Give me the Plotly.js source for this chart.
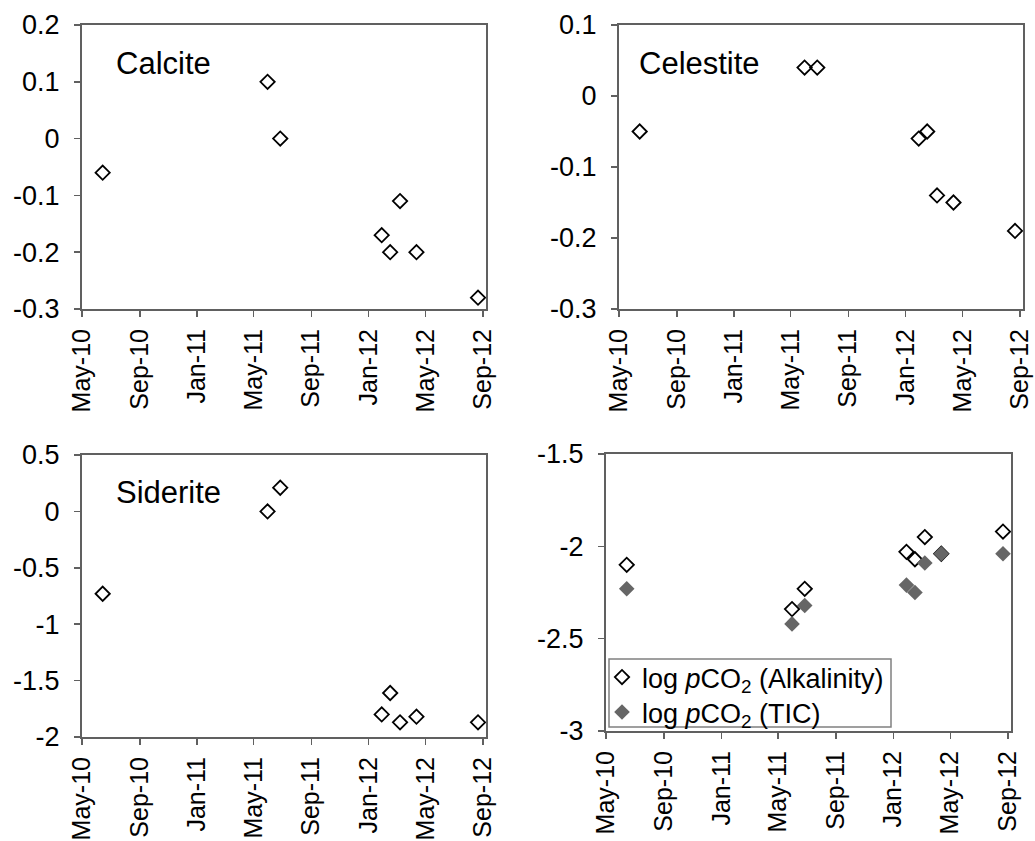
<!DOCTYPE html>
<html>
<head>
<meta charset="utf-8">
<script src="https://cdn.plot.ly/plotly-3.0.1.min.js"></script>
<style>html,body{margin:0;padding:0;background:#fff;}#chart{width:1035px;height:841px;}</style>
</head>
<body>
<div id="chart"></div>
<script>
// Sampling dates (shared by all panels)
const dates = ['2010-06-14','2011-05-31','2011-06-27','2012-01-29','2012-02-16','2012-03-08','2012-04-12','2012-08-21'];

// Saturation indices
const calcite   = [-0.06, 0.10, 0.00, -0.17, -0.20, -0.11, -0.20, -0.28];
const celestite = [-0.05, 0.04, 0.04, -0.06, -0.05, -0.14, -0.15, -0.19];
const siderite  = [-0.73, 0.00, 0.21, -1.80, -1.61, -1.87, -1.82, -1.87];

// log pCO2
const pco2Alk = [-2.10, -2.34, -2.23, -2.03, -2.07, -1.95, -2.04, -1.92];
const pco2TIC = [-2.23, -2.42, -2.32, -2.21, -2.25, -2.09, -2.04, -2.04];

// Tick labels
const xTickVals = ['2010-05-01','2010-09-01','2011-01-01','2011-05-01','2011-09-01','2012-01-01','2012-05-01','2012-09-01'];
const xTickText = ['May-10','Sep-10','Jan-11','May-11','Sep-11','Jan-12','May-12','Sep-12'];
const y1Vals = [0.2, 0.1, 0, -0.1, -0.2, -0.3];
const y1Text = ['0.2','0.1','0','-0.1','-0.2','-0.3'];
const y2Vals = [0.1, 0, -0.1, -0.2, -0.3];
const y2Text = ['0.1','0','-0.1','-0.2','-0.3'];
const y3Vals = [0.5, 0, -0.5, -1, -1.5, -2];
const y3Text = ['0.5','0','-0.5','-1','-1.5','-2'];
const y4Vals = [-1.5, -2, -2.5, -3];
const y4Text = ['-1.5','-2','-2.5','-3'];

const W = 1035, H = 841;
const FONT = 'Liberation Sans, Arial, sans-serif';
const openMarker = {symbol: 'diamond-open', size: 11, color: '#000', line: {width: 1.8, color: '#000'}};
const filledMarker = {symbol: 'diamond', size: 12, color: '#666666', line: {width: 0}};

function xa(l, r) {
  return {
    type: 'date', domain: [l / W, r / W], range: ['2010-05-01', '2012-09-07'],
    tickvals: xTickVals, ticktext: xTickText, tickangle: -90,
    ticks: 'outside', ticklen: 6, tickwidth: 1.5, tickcolor: '#606060',
    ticklabelstandoff: 2,
    showline: true, mirror: true, linecolor: '#606060', linewidth: 2,
    showgrid: false, zeroline: false, fixedrange: true,
    tickfont: {family: FONT, size: 25, color: '#000'}
  };
}
function ya(t, b, range, vals, text) {
  return {
    domain: [1 - b / H, 1 - t / H], range: range,
    tickvals: vals, ticktext: text,
    ticks: 'outside', ticklen: 6, tickwidth: 1.5, tickcolor: '#606060',
    ticklabelstandoff: 9,
    showline: true, mirror: true, linecolor: '#606060', linewidth: 2,
    showgrid: false, zeroline: false, fixedrange: true,
    tickfont: {family: FONT, size: 27, color: '#000'}
  };
}

const traces = [
  {x: dates, y: calcite, xaxis: 'x', yaxis: 'y', mode: 'markers', marker: openMarker, showlegend: false, name: 'Calcite'},
  {x: dates, y: celestite, xaxis: 'x2', yaxis: 'y2', mode: 'markers', marker: openMarker, showlegend: false, name: 'Celestite'},
  {x: dates, y: siderite, xaxis: 'x3', yaxis: 'y3', mode: 'markers', marker: openMarker, showlegend: false, name: 'Siderite'},
  {x: dates, y: pco2Alk, xaxis: 'x4', yaxis: 'y4', mode: 'markers', marker: openMarker, legend: 'legend', name: 'log <i>p</i>CO<sub>2</sub> (Alkalinity)'},
  {x: dates, y: pco2TIC, xaxis: 'x4', yaxis: 'y4', mode: 'markers', marker: filledMarker, legend: 'legend2', name: 'log <i>p</i>CO<sub>2</sub> (TIC)'}
];

const legendBase = {
  xanchor: 'left', yanchor: 'top',
  bgcolor: 'rgba(0,0,0,0)', borderwidth: 0,
  font: {family: FONT, size: 27, color: '#000'},
  tracegroupgap: 0, itemwidth: 30
};

const layout = {
  width: W, height: H,
  margin: {l: 0, r: 0, t: 0, b: 0},
  paper_bgcolor: '#fff', plot_bgcolor: '#fff',
  font: {family: FONT, color: '#000'},
  xaxis: xa(82, 486),
  yaxis: ya(25, 309, [-0.3, 0.2], y1Vals, y1Text),
  xaxis2: Object.assign(xa(619, 1023), {anchor: 'y2'}),
  yaxis2: Object.assign(ya(25, 309, [-0.3, 0.1], y2Vals, y2Text), {anchor: 'x2'}),
  xaxis3: Object.assign(xa(82, 486), {anchor: 'y3'}),
  yaxis3: Object.assign(ya(455, 737, [-2, 0.5], y3Vals, y3Text), {anchor: 'x3'}),
  xaxis4: Object.assign(xa(606, 1011), {anchor: 'y4'}),
  yaxis4: Object.assign(ya(454, 731, [-3, -1.5], y4Vals, y4Text), {anchor: 'x4'}),
  shapes: [
    {type: 'rect', xref: 'paper', yref: 'paper', x0: 609 / W, x1: 891 / W, y0: 1 - 727 / H, y1: 1 - 659 / H,
     line: {color: '#808080', width: 1.5}, fillcolor: '#fff', layer: 'above'}
  ],
  legend: Object.assign({}, legendBase, {x: 602 / W, y: 1 - 653 / H}),
  legend2: Object.assign({}, legendBase, {x: 602 / W, y: 1 - 688 / H}),
  annotations: [
    {text: 'Calcite', xref: 'paper', yref: 'paper', x: 114 / W, y: 1 - 63 / H, xanchor: 'left', yanchor: 'middle', showarrow: false, font: {family: FONT, size: 31, color: '#000'}},
    {text: 'Celestite', xref: 'paper', yref: 'paper', x: 637 / W, y: 1 - 63 / H, xanchor: 'left', yanchor: 'middle', showarrow: false, font: {family: FONT, size: 31, color: '#000'}},
    {text: 'Siderite', xref: 'paper', yref: 'paper', x: 114 / W, y: 1 - 492 / H, xanchor: 'left', yanchor: 'middle', showarrow: false, font: {family: FONT, size: 31, color: '#000'}}
  ]
};

Plotly.newPlot('chart', traces, layout, {displayModeBar: false, staticPlot: true});
</script>
</body>
</html>
